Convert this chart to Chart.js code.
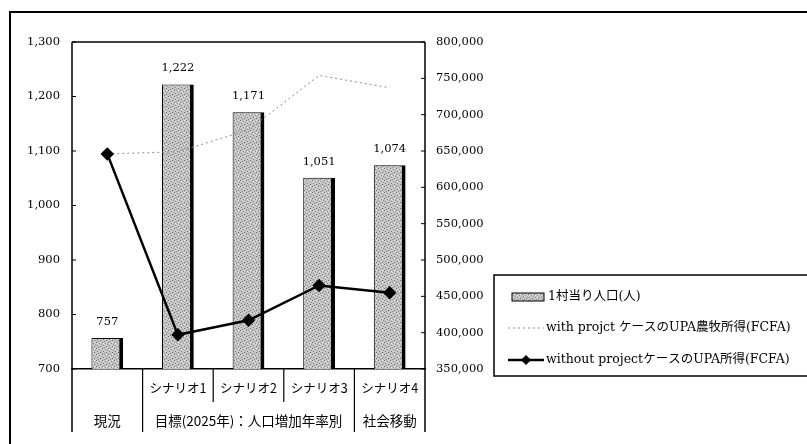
<!DOCTYPE html>
<html>
<head>
<meta charset="utf-8">
<script src="https://cdn.jsdelivr.net/npm/chart.js@4.4.1/dist/chart.umd.min.js"></script>
<style>
  html, body { margin: 0; padding: 0; background: #fff; }
  #wrap { width: 807px; height: 444px; position: relative; }
</style>
</head>
<body>
<div id="wrap"><canvas id="chart"></canvas></div>
<script>
'use strict';

const categories   = ['現況', 'シナリオ1', 'シナリオ2', 'シナリオ3', 'シナリオ4'];
const subLabels    = ['', 'シナリオ1', 'シナリオ2', 'シナリオ3', 'シナリオ4'];
const groupLabels  = [
  { text: '現況', from: 0, to: 0 },
  { text: '目標(2025年)：人口増加年率別', from: 1, to: 3 },
  { text: '社会移動', from: 4, to: 4 }
];
const population   = [757, 1222, 1171, 1051, 1074];
const withProject  = [646000, 649000, 679000, 754000, 737000];
const withoutProj  = [646000, 397000, 417000, 465000, 455000];
const legendLabels = ['1村当り人口(人)', 'with projct ケースのUPA農牧所得(FCFA)', 'without projectケースのUPA所得(FCFA)'];

const FONT = '"DejaVu Serif", "Noto Sans CJK JP", serif';
const JP_FONT = '"Noto Sans CJK JP", "DejaVu Serif", sans-serif';

// stippled grey fill for the bars (fixed dot layout, not data)
function makePattern() {
  const c = document.createElement('canvas');
  c.width = 6; c.height = 6;
  const g = c.getContext('2d');
  g.fillStyle = '#c6c6c6';
  g.fillRect(0, 0, 6, 6);
  const dots = [[0,0,'#6e6e6e'],[3,1,'#8c8c8c'],[1,3,'#808080'],[4,4,'#666'],[5,2,'#9a9a9a'],[2,5,'#8a8a8a'],[4,0,'#e6e6e6'],[1,1,'#e0e0e0'],[3,3,'#dadada']];
  dots.forEach(([x, y, col]) => { g.fillStyle = col; g.fillRect(x, y, 1, 1); });
  return g.createPattern(c, 'repeat');
}

const chrome = {
  id: 'chrome',
  beforeDraw(chart) {
    const { ctx } = chart;
    ctx.save();
    ctx.fillStyle = '#fff';
    ctx.fillRect(0, 0, chart.width, chart.height);
    ctx.restore();
  },
  afterDraw(chart) {
    const { ctx, chartArea: a, scales: { x, y, y1 } } = chart;
    ctx.save();

    // outer frame
    ctx.strokeStyle = '#000';
    ctx.lineWidth = 2;
    ctx.strokeRect(10, 12, 820, 460);

    // plot box
    ctx.lineWidth = 1.5;
    ctx.beginPath();
    ctx.moveTo(a.left, a.top); ctx.lineTo(a.right, a.top);
    ctx.moveTo(a.left, a.top); ctx.lineTo(a.left, 432);
    ctx.moveTo(a.right, a.top); ctx.lineTo(a.right, 432);
    ctx.stroke();

    // inward tick marks
    ctx.lineWidth = 1;
    ctx.beginPath();
    y.ticks.forEach(t => {
      const py = y.getPixelForValue(t.value);
      ctx.moveTo(a.left, py); ctx.lineTo(a.left + 4, py);
    });
    y1.ticks.forEach(t => {
      const py = y1.getPixelForValue(t.value);
      ctx.moveTo(a.right, py); ctx.lineTo(a.right - 4, py);
    });
    ctx.stroke();

    // category dividers below the axis
    ctx.lineWidth = 1.2;
    ctx.beginPath();
    for (let i = 0; i < categories.length - 1; i++) {
      const mx = (x.getPixelForValue(i) + x.getPixelForValue(i + 1)) / 2;
      const full = groupLabels.some(gr => gr.to === i);
      ctx.moveTo(mx, a.bottom); ctx.lineTo(mx, full ? 432 : 402);
    }
    ctx.stroke();

    // sub labels and group labels
    ctx.fillStyle = '#000';
    ctx.textAlign = 'center';
    ctx.textBaseline = 'middle';
    ctx.font = '12.5px ' + JP_FONT;
    subLabels.forEach((s, i) => ctx.fillText(s, x.getPixelForValue(i), 388));
    ctx.font = '13.5px ' + JP_FONT;
    groupLabels.forEach(gr => {
      const cx = (x.getPixelForValue(gr.from) + x.getPixelForValue(gr.to)) / 2;
      ctx.fillText(gr.text, cx, 421);
    });

    // bar value labels
    ctx.font = '11.5px ' + FONT;
    const meta = chart.getDatasetMeta(0);
    meta.data.forEach((bar, i) => {
      ctx.fillText(population[i].toLocaleString('en-US'), bar.x, bar.y - 16);
    });

    // legend
    const lx = 494, ly = 275;
    ctx.fillStyle = '#fff';
    ctx.fillRect(lx, ly, 330, 101);
    ctx.lineWidth = 1.5;
    ctx.strokeStyle = '#000';
    ctx.strokeRect(lx, ly, 330, 101);

    ctx.textAlign = 'left';
    ctx.font = '12.5px ' + FONT;
    // entry 1: bar swatch
    const r1 = 297;
    ctx.fillStyle = chart.data.datasets[0].backgroundColor;
    ctx.fillRect(512, r1 - 4, 32, 8);
    ctx.lineWidth = 1;
    ctx.strokeRect(512, r1 - 4, 32, 8);
    ctx.fillStyle = '#000';
    ctx.fillText(legendLabels[0], 548, r1);

    // entry 2: dotted grey line
    const r2 = 328;
    ctx.strokeStyle = '#8c8c8c';
    ctx.setLineDash([2, 3]);
    ctx.beginPath(); ctx.moveTo(508, r2); ctx.lineTo(544, r2); ctx.stroke();
    ctx.setLineDash([]);
    ctx.fillText(legendLabels[1], 546, r2);

    // entry 3: solid line with diamond
    const r3 = 360;
    ctx.strokeStyle = '#000';
    ctx.lineWidth = 2.5;
    ctx.beginPath(); ctx.moveTo(508, r3); ctx.lineTo(544, r3); ctx.stroke();
    ctx.beginPath();
    ctx.moveTo(526, r3 - 5); ctx.lineTo(531, r3); ctx.lineTo(526, r3 + 5); ctx.lineTo(521, r3);
    ctx.closePath(); ctx.fill();
    ctx.fillText(legendLabels[2], 546, r3);

    ctx.restore();
  }
};

const barFill = makePattern();

new Chart(document.getElementById('chart'), {
  type: 'bar',
  data: {
    labels: categories,
    datasets: [
      {
        type: 'bar',
        label: legendLabels[0],
        data: population,
        yAxisID: 'y',
        order: 2,
        backgroundColor: barFill,
        borderColor: '#000',
        borderWidth: { left: 1, top: 1, right: 4, bottom: 0 },
        borderSkipped: false,
        barPercentage: 0.45,
        categoryPercentage: 1
      },
      {
        type: 'line',
        label: legendLabels[1],
        data: withProject,
        yAxisID: 'y1',
        order: 1,
        borderColor: '#8c8c8c',
        borderWidth: 1,
        borderDash: [2, 3],
        pointRadius: 0,
        fill: false
      },
      {
        type: 'line',
        label: legendLabels[2],
        data: withoutProj,
        yAxisID: 'y1',
        order: 0,
        borderColor: '#000',
        borderWidth: 2.5,
        pointStyle: 'rectRot',
        pointRadius: 5,
        pointBackgroundColor: '#000',
        pointBorderColor: '#000',
        fill: false
      }
    ]
  },
  options: {
    responsive: true,
    maintainAspectRatio: false,
    animation: false,
    layout: { padding: { top: 42, left: 0, right: 0, bottom: 0 } },
    plugins: { legend: { display: false }, tooltip: { enabled: false } },
    scales: {
      x: {
        grid: { display: false },
        border: { color: '#000', width: 1.5 },
        ticks: { display: false },
        afterFit: s => { s.height = 75; }
      },
      y: {
        position: 'left',
        min: 700, max: 1300,
        grid: { display: false },
        border: { display: false },
        ticks: {
          stepSize: 100, padding: 4, color: '#000',
          font: { family: FONT, size: 11.5 },
          callback: v => v.toLocaleString('en-US')
        },
        afterFit: s => { s.width = 72; }
      },
      y1: {
        position: 'right',
        min: 350000, max: 800000,
        grid: { display: false },
        border: { display: false },
        ticks: {
          stepSize: 50000, padding: 3, color: '#000',
          font: { family: FONT, size: 11.5 },
          callback: v => v.toLocaleString('en-US')
        },
        afterFit: s => { s.width = 382; }
      }
    }
  },
  plugins: [chrome]
});
</script>
</body>
</html>
